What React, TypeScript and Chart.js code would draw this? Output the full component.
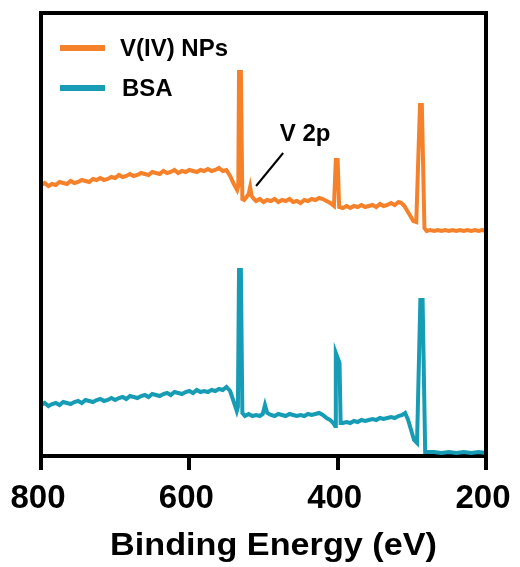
import React, { useEffect, useRef } from "react";
import { Chart, registerables } from "chart.js";

Chart.register(...registerables);

const FONT = "'Liberation Sans', Arial, Helvetica, sans-serif";

// Binding energy (eV) and intensity (a.u.)
const energyNP = [
  800, 795, 790, 785, 780, 775, 770, 765, 760, 755, 750, 745, 740, 735, 730, 725, 720, 715, 710, 705,
  700, 695, 690, 685, 680, 675, 670, 665, 660, 655, 650, 645, 640, 635, 630, 625, 620, 615, 610, 605,
  600, 595, 590, 585, 580, 575, 570, 565, 560, 555, 550, 545, 540, 535.5, 534, 533, 530.5, 528.5, 526, 523,
  520, 518, 516, 513, 510, 505, 500, 495, 490, 485, 480, 475, 470, 465, 460, 455, 450, 445, 440, 435,
  430, 425, 420, 415, 410, 405, 402.5, 400, 398, 393, 388, 383, 378, 373, 368, 363, 358, 353, 348, 343,
  338, 333, 328, 323, 318, 314, 310, 306, 302, 298, 294, 289, 286.5, 283, 280, 275, 270, 265, 260, 255,
  250, 245, 240, 235, 230, 225, 220, 215, 210, 205, 200,
];
const intensityNP = [
  271, 273, 270, 272, 271, 274, 273, 272, 275, 273, 274, 276, 275, 274, 277, 276, 278, 276, 277, 279,
  278, 281, 279, 280, 282, 280, 281, 283, 282, 281, 284, 283, 282, 285, 283, 284, 286, 283, 285, 284,
  286, 285, 284, 286, 285, 287, 285, 286, 288, 285, 286, 280, 272, 266, 270, 384, 384, 257, 256, 259,
  262, 269, 260, 257, 255, 257, 254, 256, 255, 257, 254, 256, 255, 257, 254, 255, 253, 256, 255, 257,
  256, 258, 257, 255, 253, 250, 296, 296, 249, 248, 250, 248, 250, 249, 251, 249, 250, 251, 249, 252,
  250, 251, 253, 251, 254, 253, 250, 245, 240, 235, 234, 351, 351, 228, 225, 226, 225, 226, 225, 226,
  225, 226, 225, 226, 225, 226, 225, 226, 225, 226, 225,
];

const energyBSA = [
  800, 795, 790, 785, 780, 775, 770, 765, 760, 755, 750, 745, 740, 735, 730, 725, 720, 715, 710, 705,
  700, 695, 690, 685, 680, 675, 670, 665, 660, 655, 650, 645, 640, 635, 630, 625, 620, 615, 610, 605,
  600, 595, 590, 585, 580, 575, 570, 565, 560, 555, 550, 545, 540, 536, 534.5, 533, 530.5, 528.5, 525, 520,
  515, 510, 505, 501, 498, 495, 490, 485, 480, 475, 470, 465, 460, 455, 450, 445, 440, 435, 430, 425,
  420, 415, 410, 405, 403.5, 402.5, 397.5, 396, 393, 388, 383, 378, 373, 368, 363, 358, 353, 348, 343, 338,
  333, 328, 323, 318, 313, 309, 305, 301, 297, 293, 288.5, 285.5, 282, 278, 270, 260, 250, 240, 230, 220,
  210, 200,
];
const intensityBSA = [
  51, 53, 50, 52, 53, 51, 54, 53, 52, 54, 55, 53, 56, 55, 54, 56, 57, 55, 56, 58,
  56, 58, 59, 57, 60, 59, 58, 60, 61, 59, 62, 61, 60, 62, 63, 61, 64, 63, 62, 64,
  65, 63, 66, 64, 65, 64, 66, 65, 67, 66, 69, 65, 54, 45, 49, 186, 186, 43, 40, 42,
  40, 41, 40, 42, 51, 43, 41, 40, 42, 41, 40, 42, 41, 40, 41, 40, 42, 41, 42, 43,
  41, 38, 36, 32, 30, 103, 93, 33, 33, 34, 33, 35, 34, 36, 35, 36, 37, 36, 38, 37,
  38, 39, 38, 40, 41, 43, 36, 26, 16, 13, 156, 156, 4, 4, 4, 3, 4, 3, 4, 3,
  4, 3,
];

const seriesLabels = ["V(IV) NPs", "BSA"];
const seriesColors = ["#F5822A", "#169CB5"];
const xTicks = [800, 600, 400, 200];
const xTitle = "Binding Energy (eV)";

const framePlugin = {
  id: "frameAndNotes",
  afterDraw(chart: any) {
    const { ctx, chartArea, scales } = chart;
    const { left, top, right, bottom } = chartArea;
    ctx.save();
    ctx.strokeStyle = "#000";
    ctx.lineWidth = 4;
    ctx.beginPath();
    ctx.moveTo(left, bottom);
    ctx.lineTo(left, top);
    ctx.lineTo(right, top);
    ctx.lineTo(right, bottom);
    ctx.stroke();

    // legend
    ctx.font = `bold 24px ${FONT}`;
    ctx.textBaseline = "middle";
    ctx.textAlign = "left";
    const rows = [48, 88];
    seriesLabels.forEach((lab, i) => {
      ctx.fillStyle = seriesColors[i];
      ctx.fillRect(60, rows[i] - 3, 45, 6);
      ctx.fillStyle = "#000";
      ctx.fillText(lab, i === 0 ? 120 : 122, rows[i] + 1);
    });

    // V 2p annotation
    const xs = scales.x;
    const ys = scales.y;
    ctx.strokeStyle = "#000";
    ctx.lineWidth = 2;
    ctx.beginPath();
    ctx.moveTo(xs.getPixelForValue(473.5), ys.getPixelForValue(303));
    ctx.lineTo(xs.getPixelForValue(510), ys.getPixelForValue(270));
    ctx.stroke();
    ctx.fillStyle = "#000";
    ctx.fillText("V 2p", xs.getPixelForValue(478), ys.getPixelForValue(322));

    // x-axis title
    ctx.font = `bold 31.5px ${FONT}`;
    ctx.textAlign = "center";
    ctx.textBaseline = "alphabetic";
    ctx.translate(273.5, 555);
    ctx.scale(1.086, 1);
    ctx.fillText(xTitle, 0, 0);
    ctx.restore();
  },
};

export default function App() {
  const ref = useRef<HTMLCanvasElement>(null);
  useEffect(() => {
    if (!ref.current) return;
    const mk = (ex: number[], iy: number[]) => ex.map((x, i) => ({ x, y: iy[i] }));
    const chart = new Chart(ref.current, {
      type: "line",
      data: {
        datasets: [
          {
            label: seriesLabels[0],
            data: mk(energyNP, intensityNP),
            borderColor: seriesColors[0],
            backgroundColor: seriesColors[0],
            borderWidth: 4,
            pointRadius: 0,
            tension: 0,
            fill: false,
          },
          {
            label: seriesLabels[1],
            data: mk(energyBSA, intensityBSA),
            borderColor: seriesColors[1],
            backgroundColor: seriesColors[1],
            borderWidth: 4,
            pointRadius: 0,
            tension: 0,
            fill: false,
          },
        ],
      },
      options: {
        responsive: false,
        animation: false,
        layout: { padding: { left: 41, right: 34, top: 13, bottom: 0 } },
        plugins: { legend: { display: false }, tooltip: { enabled: false } },
        scales: {
          x: {
            type: "linear",
            min: 200,
            max: 800,
            reverse: true,
            afterBuildTicks: (s: any) => {
              s.ticks = xTicks.map((v) => ({ value: v }));
            },
            afterFit: (s: any) => {
              s.height = 111;
              s.paddingLeft = 0;
              s.paddingRight = 0;
            },
            ticks: {
              color: "#000",
              font: { family: FONT, size: 33, weight: "bold" },
              padding: 9,
              labelOffset: -3,
              maxRotation: 0,
            },
            grid: {
              drawOnChartArea: false,
              drawTicks: true,
              tickLength: 14,
              lineWidth: 4,
              color: "#000",
            },
            border: { display: true, width: 4, color: "#000" },
            title: { display: false, text: xTitle },
          },
          y: { type: "linear", display: false, min: 0, max: 443 },
        },
      },
      plugins: [framePlugin],
    });
    return () => chart.destroy();
  }, []);
  return (
    <div style={{ position: "fixed", left: 0, top: 0, width: 520, height: 567, background: "#fff" }}>
      <canvas ref={ref} width={520} height={567} style={{ width: 520, height: 567, display: "block" }} />
    </div>
  );
}
